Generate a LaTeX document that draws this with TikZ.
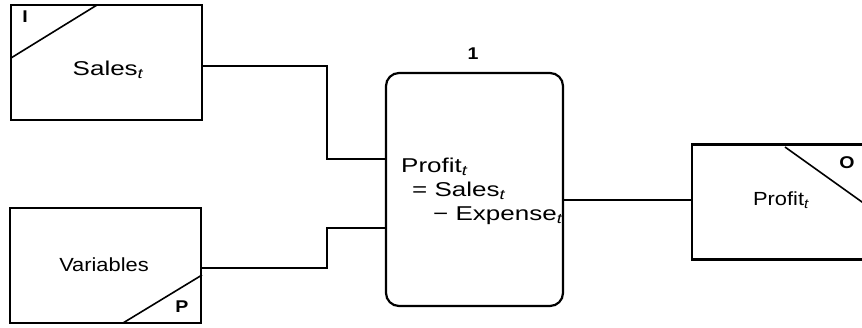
\documentclass[tikz,border=0pt]{standalone}
\usepackage{fontspec}
\setmainfont{Liberation Sans}[FakeStretch=1.15]
\newfontfamily\widefont{Liberation Sans}[FakeStretch=1.3]
\newcommand{\subt}{\textsubscript{\itshape t}}
\tikzset{
  box/.style={draw, line width=2.4pt, minimum width=191pt, minimum height=115pt, inner sep=0pt},
  procbox/.style={draw, line width=2.2pt, rounded corners=13pt, minimum width=177pt, minimum height=233pt, inner sep=0pt},
  conn/.style={line width=1.4pt},
  diag/.style={line width=1.6pt},
  lbl/.style={font=\fontsize{19}{22}\selectfont, inner sep=0pt},
  eqlbl/.style={font=\widefont\fontsize{20}{24}\selectfont, inner sep=0pt, anchor=base west},
  tag/.style={font=\fontsize{17}{20}\selectfont\bfseries, inner sep=0pt}
}
\begin{document}
\begin{tikzpicture}[x=1pt, y=-1pt]
\useasboundingbox (0,0) rectangle (862,327);
\clip (0,0) rectangle (862,327);
% boxes
\node[box] (I) at (106.5,62.5) {};
\node[box] (P) at (105.5,265.5) {};
\node[procbox] (C) at (474.5,189.5) {};
\node[box] (O) at (787.5,202) {};
% diagonals
\coordinate (i1) at (11,58);
\coordinate (i2) at (97,5);
\draw[diag] (i1) -- (i2);
\coordinate (p1) at (202,275);
\coordinate (p2) at (123,323);
\draw[diag] (p1) -- (p2);
\coordinate (o1) at (785,147);
\coordinate (o2) at (883,217);
\draw[diag] (o1) -- (o2);
% texts
\node[lbl, font=\widefont\fontsize{20}{24}\selectfont] (salestxt) at (108,70) {Sales\subt};
\node[lbl] (vartxt) at (104,265) {Variables};
\node[lbl] (proftxt) at (781,200) {Profit\subt};
\node[tag] (tI) at (25,17) {I};
\node[tag] (tP) at (182,307) {P};
\node[tag] (tO) at (847,163) {O};
\node[tag] (num) at (473,54) {1};
\node[eqlbl] (eq1) at (401,172) {Profit\subt};
\node[eqlbl] (eq2) at (412,196) {= Sales\subt};
\node[eqlbl] (eq3) at (433,220) {− Expense\subt};
% connectors
\coordinate (j1) at (327,66);
\coordinate (j2) at (327,268);
\draw[conn] (I.east |- j1) -- (j1) |- (C.west |- 0,159);
\draw[conn] (P.east |- j2) -- (j2) |- (C.west |- 0,228);
\draw[conn] (C.east |- 0,200) -- (O.west |- 0,200);
\end{tikzpicture}
\end{document}
